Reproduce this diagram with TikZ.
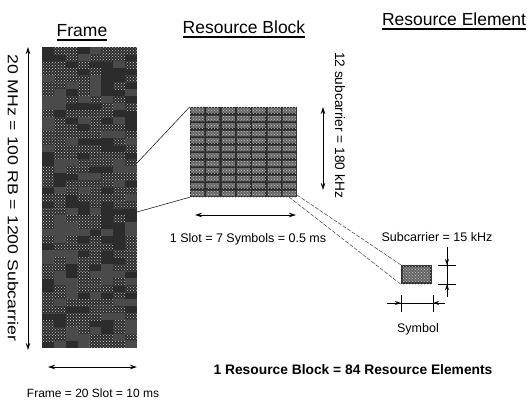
\documentclass[tikz,border=0pt]{standalone}
\usepackage{fontspec}
\setmainfont{Liberation Sans}
\usetikzlibrary{arrows.meta,patterns}
\definecolor{darkfill}{HTML}{2C2C2C}
\definecolor{midfill}{HTML}{4A4A4A}
\definecolor{cellfill}{HTML}{666666}
\definecolor{speck}{HTML}{C4C4C4}
\begin{document}
\begin{tikzpicture}[x=1pt,y=-1pt,
  dim/.style={line width=0.9pt,{Stealth[length=7pt,width=4.5pt]}-{Stealth[length=7pt,width=4.5pt]}},
  onearrow/.style={line width=0.9pt,-{Stealth[length=6pt,width=4pt]}},
  tick/.style={line width=0.9pt},
  title/.style={font=\fontsize{17.5}{20}\selectfont,anchor=base,inner sep=0pt},
  lbl/.style={font=\fontsize{12}{14}\selectfont,inner sep=0pt},
  link/.style={line width=0.6pt,black!85},
  dlink/.style={line width=0.5pt,black!75,dash pattern=on 4pt off 1.5pt},
  blockbox/.style={fill=darkfill,inner sep=0pt,draw=none},
  speckled/.style={pattern=crosshatch dots,pattern color=speck},
  ]
\useasboundingbox (0,0) rectangle (531,400);
\fill[white] (0,0) rectangle (531,400);

% titles
\node[title] (t1) at (82,36) {Frame};
\node[title] (t2) at (244,33) {Resource Block};
\node[title] (t3) at (454,25) {Resource Element};
\foreach \t in {t1,t2,t3}{
  \draw[line width=1.6pt] ([yshift=-4pt]\t.base west) -- ([yshift=-4pt]\t.base east);
}

% frame
\node[blockbox,minimum width=95pt,minimum height=301pt] (frame) at (89.5,197.5) {};
\pgfmathsetseed{12}
\foreach \i in {0,...,7}{
  \foreach \j in {0,...,42}{
    \pgfmathsetmacro\r{rnd}
    \ifdim\r pt<0.25pt \fill[midfill] (42+\i*11.875,47+\j*7) rectangle ++(11.875,7); \fi
    \ifdim\r pt>0.55pt \fill[speckled] (42+\i*11.875,47+\j*7) rectangle ++(11.875,7); \fi
  }
}

% resource block
\node[blockbox,minimum width=107pt,minimum height=90pt] (rb) at (243.5,152) {};
\foreach \i in {0,...,6}{
  \foreach \j in {0,...,11}{
    \fill[cellfill] (190+\i*15.2857+1.1,107+\j*7.5+1.1) rectangle ++(13.1,5.3);
  }
}
\fill[speckled] (rb.north west) rectangle (rb.south east);
\foreach \i in {1,...,6}{
  \draw[darkfill,line width=0.9pt] (190+\i*15.2857,107) -- (190+\i*15.2857,197);
}
\foreach \j in {1,...,11}{
  \draw[darkfill,line width=0.9pt] (190,107+\j*7.5) -- (297,107+\j*7.5);
}

% resource element
\node[blockbox,minimum width=31pt,minimum height=19pt] (re) at (416.5,274.5) {};
\fill[cellfill] (403,267) rectangle (430,282);
\fill[speckled] (re.north west) rectangle (re.south east);

% frame dimensions
\coordinate (fv1) at (28,47);
\coordinate (fv2) at (28,350);
\draw[dim] (fv1) -- (fv2);
\node[inner sep=0pt,rotate=-90,font=\fontsize{14.5}{17}\selectfont] (flab) at (13,198)
  {\scalebox{1.22}[1]{20 MHz = 100 RB = 1200 Subcarrier}};
\coordinate (fh1) at (48,367);
\coordinate (fh2) at (137,367);
\draw[dim] (fh1) -- (fh2);
\node[lbl] (fblab) at (93,393) {Frame = 20 Slot = 10 ms};

% frame to RB links
\coordinate (fa) at (137,163);
\coordinate (fb) at (137,212);
\draw[link] (fa) -- (rb.north west);
\draw[link] (fb) -- (rb.south west);

% RB dimensions
\coordinate (rh1) at (195,215);
\coordinate (rh2) at (296,215);
\draw[dim] (rh1) -- (rh2);
\node[lbl,font=\fontsize{12.5}{14}\selectfont] (rhlab) at (248,239) {1 Slot = 7 Symbols = 0.5 ms};
\coordinate (rv1) at (323,107);
\coordinate (rv2) at (323,190);
\draw[dim] (rv1) -- (rv2);
\node[inner sep=0pt,rotate=-90,font=\fontsize{13.7}{16}\selectfont] (rvlab) at (340,125) {12 subcarrier = 180 kHz};

% RB to RE links
\coordinate (rc1) at (297,195);
\coordinate (rc2) at (289,197);
\draw[dlink] (rc1) -- (re.north west);
\draw[dlink] (rc2) -- (re.south west);

% RE dimensions
\coordinate (ev0) at (447,247);
\coordinate (ev1) at (447,265);
\coordinate (ev2) at (447,284);
\coordinate (ev3) at (447,297);
\draw[tick] (ev0) -- (ev3);
\draw[onearrow] (ev0) -- (ev1);
\draw[onearrow] (ev3) -- (ev2);
\draw[tick] ([xshift=-9pt]ev1) -- ([xshift=9pt]ev1);
\draw[tick] ([xshift=-9pt]ev2) -- ([xshift=9pt]ev2);
\node[lbl,font=\fontsize{12.5}{14}\selectfont] (evlab) at (437,237) {Subcarrier = 15 kHz};

\coordinate (eh0) at (387,303);
\coordinate (eh1) at (401,303);
\coordinate (eh2) at (433,303);
\coordinate (eh3) at (445,303);
\draw[tick] (eh0) -- (eh3);
\draw[onearrow] (eh0) -- (eh1);
\draw[onearrow] (eh3) -- (eh2);
\draw[tick] ([yshift=8pt]eh1) -- ([yshift=-9pt]eh1);
\draw[tick] ([yshift=8pt]eh2) -- ([yshift=-9pt]eh2);
\node[lbl,font=\fontsize{12.5}{14}\selectfont] (ehlab) at (418,329) {Symbol};

% bottom statement
\node[inner sep=0pt,font=\bfseries\fontsize{13.8}{16}\selectfont] (sum) at (353,370)
  {1 Resource Block = 84 Resource Elements};
\end{tikzpicture}
\end{document}
